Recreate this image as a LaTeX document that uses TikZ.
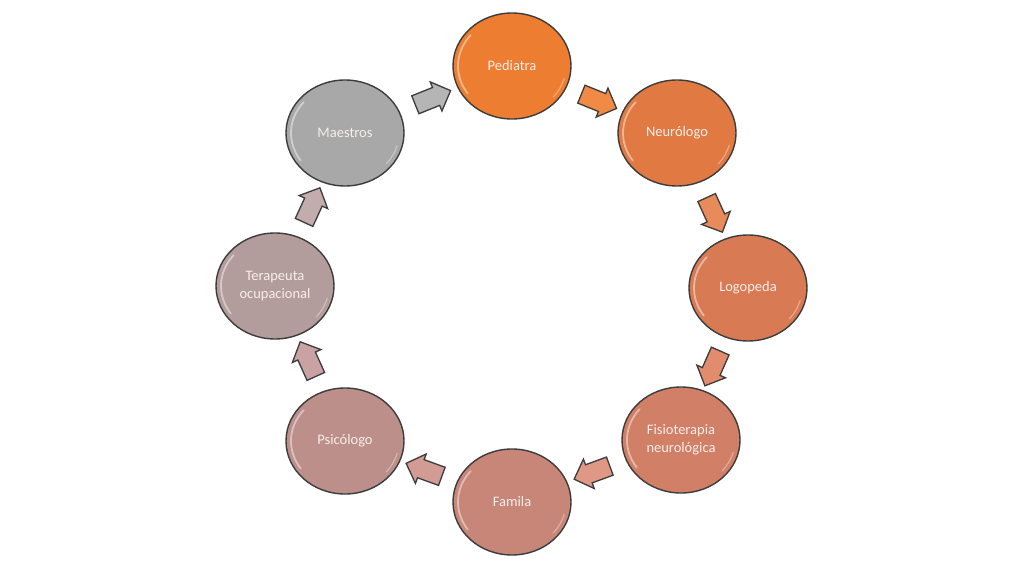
\documentclass[tikz,border=0pt]{standalone}
\usepackage{fontspec}
\setmainfont{Carlito}
\usetikzlibrary{shapes.geometric,shapes.arrows,calc}
\definecolor{cPed}{HTML}{ED7D31}
\definecolor{cNeu}{HTML}{E07A42}
\definecolor{cLog}{HTML}{D87B55}
\definecolor{cFis}{HTML}{D17F66}
\definecolor{cFam}{HTML}{C78678}
\definecolor{cPsi}{HTML}{BD8F8B}
\definecolor{cTer}{HTML}{B39D9C}
\definecolor{cMae}{HTML}{A8A8A8}
\definecolor{aPN}{HTML}{F08A45}
\definecolor{aNL}{HTML}{E88A5A}
\definecolor{aLF}{HTML}{E28C6E}
\definecolor{aFF}{HTML}{E09886}
\definecolor{aFP}{HTML}{D29C95}
\definecolor{aPT}{HTML}{C9A3A3}
\definecolor{aTM}{HTML}{C2ACAC}
\definecolor{aMP}{HTML}{B5B5B5}
\definecolor{edge}{HTML}{3C3C3C}
\definecolor{txt}{HTML}{F7EEEA}
\tikzset{
  bubble/.style={ellipse, draw=edge, line width=1.4pt, minimum width=118pt, minimum height=106pt,
    inner sep=0pt, align=center, text=txt, font=\fontsize{14.5}{18}\selectfont},
  hl/.style={white, opacity=0.45, line width=1.8pt, line cap=round},
  blockarrow/.style={single arrow, draw=edge, line width=1.3pt, minimum height=38pt,
    single arrow head extend=6pt, inner sep=9pt},
}
\newcommand{\gloss}[1]{%
  \draw[hl] (#1.center) ++(140:54 and 48) arc[start angle=140, end angle=215, x radius=54, y radius=48];
  \draw[hl, line width=1.2pt, opacity=0.35] (#1.center) ++(-40:54 and 48) arc[start angle=-40, end angle=-15, x radius=54, y radius=48];
}
\newcommand{\blk}[3]{%
  \path let \p1=($(#2)-(#1)$), \n1={atan2(\y1,\x1)} in
    node[blockarrow, fill=#3, rotate=\n1] (#1#2) at ($(#1)!0.5!(#2)$) {};
}
\begin{document}
\begin{tikzpicture}[x=1pt,y=1pt]
\useasboundingbox (0,0) rectangle (1024,576);
\fill[white] (0,0) rectangle (1024,576);
\node[bubble, fill=cPed] (ped) at (512,510) {Pediatra};
\node[bubble, fill=cNeu] (neu) at (677,443) {Neurólogo};
\node[bubble, fill=cLog] (log) at (748,288) {Logopeda};
\node[bubble, fill=cFis] (fis) at (681,136) {Fisioterapia\\neurológica};
\node[bubble, fill=cFam] (fam) at (512,74) {Famila};
\node[bubble, fill=cPsi] (psi) at (345,135) {Psicólogo};
\node[bubble, fill=cTer] (ter) at (275,290) {Terapeuta\\ocupacional};
\node[bubble, fill=cMae] (mae) at (345,443) {Maestros};
\foreach \n in {ped,neu,log,fis,fam,psi,ter,mae}{\gloss{\n}}
\blk{ped}{neu}{aPN}
\blk{neu}{log}{aNL}
\blk{log}{fis}{aLF}
\blk{fis}{fam}{aFF}
\blk{fam}{psi}{aFP}
\blk{psi}{ter}{aPT}
\blk{ter}{mae}{aTM}
\blk{mae}{ped}{aMP}
\end{tikzpicture}
\end{document}
